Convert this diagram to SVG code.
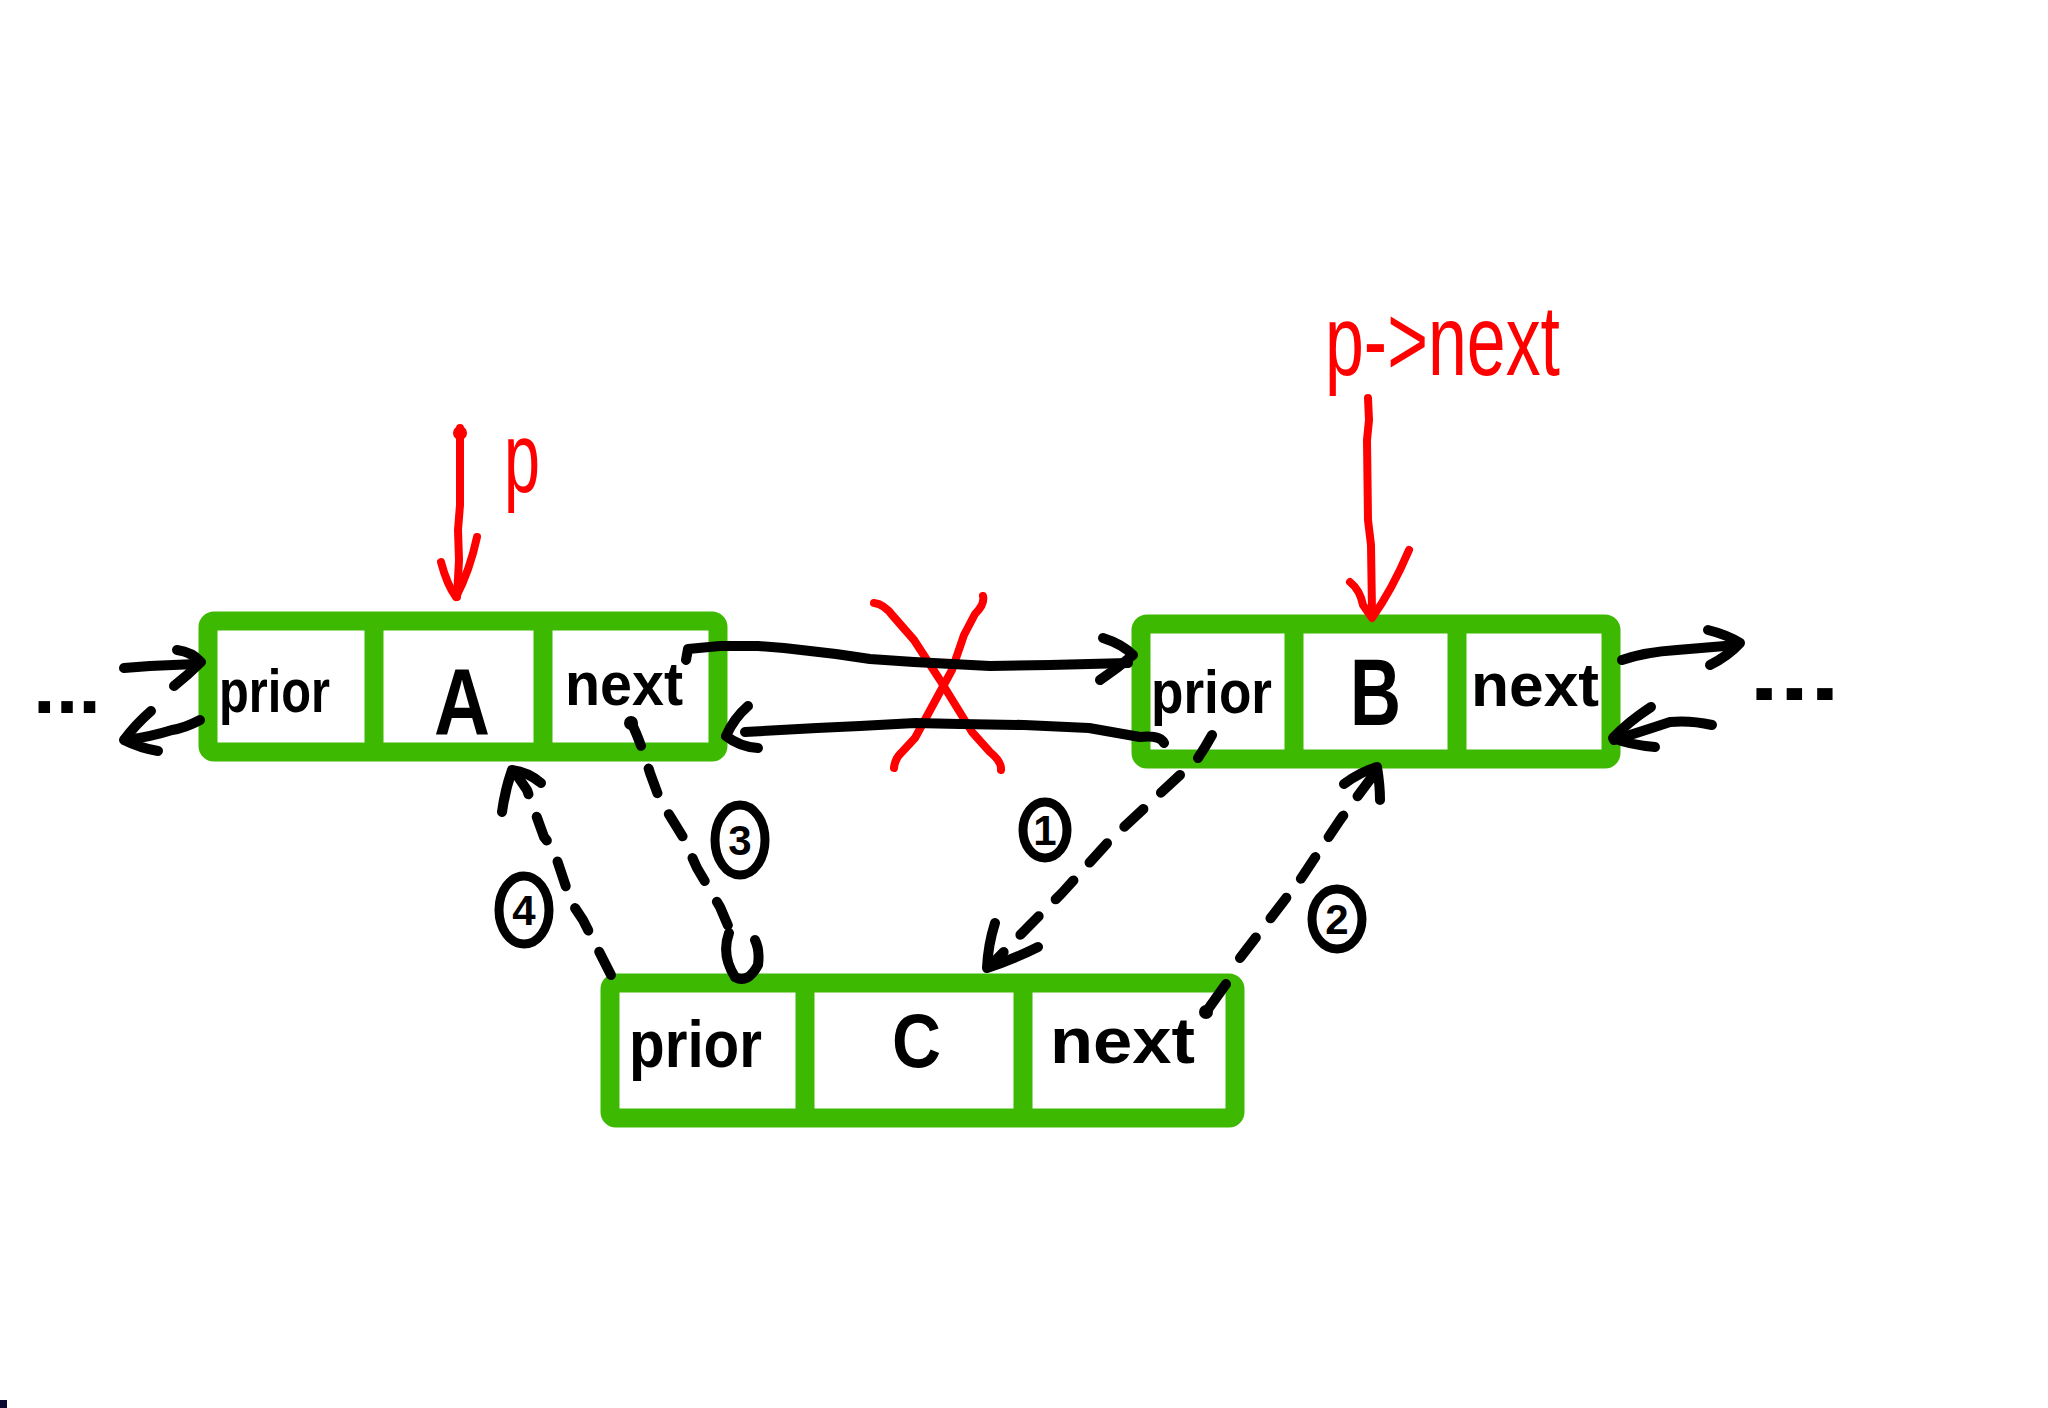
<svg xmlns="http://www.w3.org/2000/svg" width="2048" height="1408" viewBox="0 0 2048 1408">
<style>
.box{fill:#fff;stroke:#3cb900;stroke-width:19;stroke-linejoin:round}
.div{stroke:#3cb900;stroke-width:19;fill:none}
.t{font-family:"Liberation Sans",Arial,sans-serif;font-weight:bold;fill:#000}
.rt{font-family:"Liberation Sans",Arial,sans-serif;fill:#ff0000}
.ink{fill:none;stroke:#000;stroke-width:10;stroke-linecap:round;stroke-linejoin:round}
.dash{fill:none;stroke:#000;stroke-width:10;stroke-linecap:round;stroke-linejoin:round;stroke-dasharray:26 24}
.red{fill:none;stroke:#ff0000;stroke-width:8;stroke-linecap:round;stroke-linejoin:round}
.circ{fill:none;stroke:#000;stroke-width:9}
.num{font-family:"Liberation Sans",Arial,sans-serif;font-weight:bold;font-size:42px;fill:#000;text-anchor:middle}
</style>
<rect width="2048" height="1408" fill="#fff"/>

<g id="node-A">
<rect class="box" x="208" y="621" width="510" height="131" rx="6"/>
<line class="div" x1="374" y1="621" x2="374" y2="752"/>
<line class="div" x1="543" y1="621" x2="543" y2="752"/>
<text class="t" x="219" y="712" font-size="62" textLength="111" lengthAdjust="spacingAndGlyphs">prior</text>
<text class="t" x="434" y="735" font-size="95" textLength="56" lengthAdjust="spacingAndGlyphs">A</text>
<text class="t" x="565" y="705" font-size="62" textLength="118" lengthAdjust="spacingAndGlyphs">next</text>
</g>

<g id="node-B">
<rect class="box" x="1141" y="624" width="470" height="135" rx="6"/>
<line class="div" x1="1294" y1="624" x2="1294" y2="759"/>
<line class="div" x1="1457" y1="624" x2="1457" y2="759"/>
<text class="t" x="1151" y="713" font-size="62" textLength="121" lengthAdjust="spacingAndGlyphs">prior</text>
<text class="t" x="1350" y="725" font-size="95" textLength="51" lengthAdjust="spacingAndGlyphs">B</text>
<text class="t" x="1471" y="706" font-size="62" textLength="128" lengthAdjust="spacingAndGlyphs">next</text>
</g>

<g id="node-C">
<rect class="box" x="610" y="983" width="625" height="135" rx="6"/>
<line class="div" x1="805" y1="983" x2="805" y2="1118"/>
<line class="div" x1="1023" y1="983" x2="1023" y2="1118"/>
<text class="t" x="629" y="1067" font-size="66" textLength="133" lengthAdjust="spacingAndGlyphs">prior</text>
<text class="t" x="892" y="1067" font-size="76" textLength="49" lengthAdjust="spacingAndGlyphs">C</text>
<text class="t" x="1050" y="1063" font-size="64" textLength="145" lengthAdjust="spacingAndGlyphs">next</text>
</g>

<g id="labels">
<text class="t" x="33" y="713" font-size="80" textLength="68" lengthAdjust="spacingAndGlyphs">...</text>
<text class="t" x="1749" y="700" font-size="80" textLength="91" lengthAdjust="spacingAndGlyphs">...</text>
<text class="rt" x="504" y="492" font-size="100" textLength="36" lengthAdjust="spacingAndGlyphs">p</text>
<text class="rt" x="1325" y="375" font-size="100" textLength="235" lengthAdjust="spacingAndGlyphs">p-&gt;next</text>
<g id="step-1"><ellipse class="circ" cx="1045" cy="830" rx="22" ry="28"/><text class="num" x="1045" y="845">1</text></g>
<g id="step-2"><ellipse class="circ" cx="1337" cy="919" rx="25" ry="30"/><text class="num" x="1337" y="934">2</text></g>
<g id="step-3"><ellipse class="circ" cx="740" cy="840" rx="25" ry="35"/><text class="num" x="740" y="855">3</text></g>
<g id="step-4"><ellipse class="circ" cx="524" cy="910" rx="25" ry="34"/><text class="num" x="524" y="925">4</text></g>
</g>

<g id="connectors">
<!-- red pointers -->
<circle cx="460" cy="433" r="7" fill="#ff0000"/>
<path class="red" d="M460,428 L460,505 L458,530 L459,560 L457,597"/>
<path class="red" d="M441,562 Q447,585 456,597 Q470,570 477,537"/>
<path class="red" d="M1368,398 L1369,420 L1367,440 L1368,520 L1371,545 L1372,612"/>
<path class="red" d="M1350,582 Q1360,590 1363,605 L1372,618 Q1392,590 1409,550"/>
<!-- red cross -->
<path class="red" d="M874,603 Q884,604 893,616 L914,640 L940,680 L972,732 L990,752 Q1002,762 1001,770"/>
<path class="red" d="M983,596 Q985,604 975,614 L964,635 L952,670 L940,692 L915,738 L902,752 Q895,758 894,768"/>
<!-- left side -->
<path class="ink" d="M124,668 L150,666 L196,664"/>
<path class="ink" d="M177,650 Q192,652 201,662 Q188,675 174,686"/>
<path class="ink" d="M200,720 Q185,728 172,730 Q150,737 126,740"/>
<path class="ink" d="M151,711 Q135,725 124,740 Q140,748 158,751"/>
<!-- A.next -> B.prior -->
<path class="ink" d="M686,660 L688,649 L720,646 L758,646 L784,648 L836,654 L870,659 L914,662 L990,666 L1050,665 L1128,663"/>
<path class="ink" d="M1103,638 Q1122,644 1133,655 Q1118,668 1100,680"/>
<!-- B.prior -> A.next -->
<path class="ink" d="M1164,743 Q1160,735 1140,737 L1089,728 L1024,725 L960,724 L915,723 L860,726 L817,728 L745,732"/>
<path class="ink" d="M748,706 Q734,718 726,736 Q740,747 758,748"/>
<!-- right side -->
<path class="ink" d="M1622,660 Q1645,652 1677,650 L1737,645"/>
<path class="ink" d="M1708,630 Q1728,635 1740,643 Q1728,656 1710,665"/>
<path class="ink" d="M1712,725 Q1690,720 1670,722 Q1640,732 1614,740"/>
<path class="ink" d="M1651,707 Q1628,722 1613,738 Q1630,745 1655,747"/>
<!-- step 1: B.prior -> C -->
<path class="ink" d="M1212,735 Q1206,746 1198,758"/>
<path class="dash" d="M1180,775 L1110,840 L1062,893 L1030,925 L990,966"/>
<path class="ink" d="M995,923 Q988,945 987,968 Q1012,960 1038,947"/>
<!-- step 2: C.next -> B -->
<path class="ink" d="M1206,1012 L1226,984"/>
<circle cx="1206" cy="1012" r="7" fill="#000"/>
<path class="dash" d="M1240,958 L1300,880 L1340,820 L1377,770"/>
<path class="ink" d="M1344,784 Q1360,772 1377,767 Q1380,785 1380,800"/>
<!-- step 3: A.next -> C.prior -->
<circle cx="631" cy="723" r="7" fill="#000"/>
<path class="dash" d="M631,722 Q640,740 650,773 L660,800 L683,837 L697,868 L720,907 L729,928"/>
<path class="ink" d="M729,933 Q721,955 735,977 Q748,984 758,965 Q760,950 755,940"/>
<!-- step 4: C.prior -> A -->
<path class="dash" d="M611,975 L583,920 L571,902 L553,848 L544,837 L527,790 L516,774"/>
<path class="ink" d="M502,812 Q505,790 512,770 Q528,772 541,783"/>
</g>
<rect x="0" y="1400" width="7" height="8" fill="#0a0a30"/>
</svg>
